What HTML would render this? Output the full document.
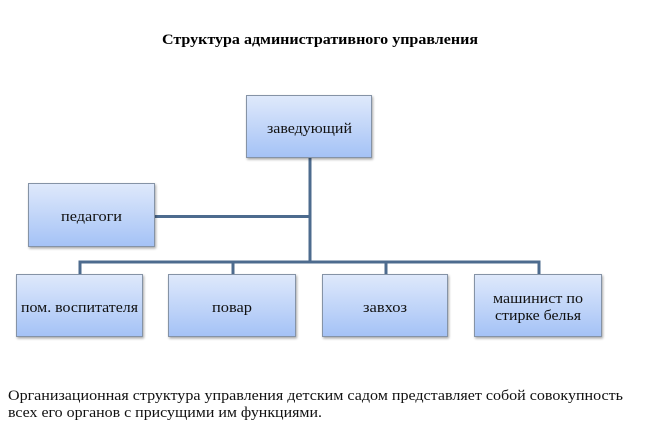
<!DOCTYPE html>
<html>
<head>
<meta charset="utf-8">
<style>
html,body{margin:0;padding:0;background:#fff;}
svg{display:block;}
svg text{font-family:"Liberation Serif","DejaVu Serif",serif;}
</style>
</head>
<body>
<svg width="651" height="430" viewBox="0 0 651 430" xmlns="http://www.w3.org/2000/svg">
<defs>
<linearGradient id="g" x1="0" y1="0" x2="0" y2="1">
<stop offset="0" stop-color="#dfe9fb"/>
<stop offset="1" stop-color="#a4c2f6"/>
</linearGradient>
<filter id="sh" x="-10%" y="-10%" width="130%" height="130%">
<feGaussianBlur in="SourceAlpha" stdDeviation="1.2"/>
<feOffset dx="1" dy="1.5" result="b"/>
<feComponentTransfer><feFuncA type="linear" slope="0.35"/></feComponentTransfer>
<feMerge><feMergeNode/><feMergeNode in="SourceGraphic"/></feMerge>
</filter>
</defs>
<rect width="651" height="430" fill="#fff"/>
<text x="162" y="44" style="font-family:'Liberation Serif',serif;font-weight:bold;font-size:15px" textLength="316" lengthAdjust="spacingAndGlyphs" fill="#000">Структура административного управления</text>

<g stroke="#4d6b8e" stroke-width="3" fill="none">
<line x1="310" y1="157" x2="310" y2="263.5"/>
<line x1="155" y1="216.5" x2="310" y2="216.5"/>
<line x1="78.5" y1="262" x2="540.5" y2="262"/>
<line x1="80" y1="262" x2="80" y2="274"/>
<line x1="233" y1="262" x2="233" y2="274"/>
<line x1="386" y1="262" x2="386" y2="274"/>
<line x1="539" y1="262" x2="539" y2="274"/>
</g>

<g fill="url(#g)" stroke="#8593a6" stroke-width="1" filter="url(#sh)">
<rect x="246.5" y="95.5" width="125" height="62"/>
<rect x="28.5" y="183.5" width="126" height="63"/>
<rect x="16.5" y="274.5" width="126" height="62"/>
<rect x="168.5" y="274.5" width="127" height="62"/>
<rect x="322.5" y="274.5" width="125" height="62"/>
<rect x="474.5" y="274.5" width="127" height="62"/>
</g>

<g style="font-family:'Liberation Serif',serif;font-size:15px" fill="#111">
<text x="267" y="133" textLength="85" lengthAdjust="spacingAndGlyphs">заведующий</text>
<text x="61" y="221" textLength="61" lengthAdjust="spacingAndGlyphs">педагоги</text>
<text x="21" y="312" textLength="117" lengthAdjust="spacingAndGlyphs">пом. воспитателя</text>
<text x="212" y="312" textLength="40" lengthAdjust="spacingAndGlyphs">повар</text>
<text x="363" y="312" textLength="44" lengthAdjust="spacingAndGlyphs">завхоз</text>
<text x="493" y="303" textLength="90" lengthAdjust="spacingAndGlyphs">машинист по</text>
<text x="495" y="320" textLength="86" lengthAdjust="spacingAndGlyphs">стирке белья</text>
</g>

<g style="font-family:'Liberation Serif',serif;font-size:15px" fill="#111">
<text x="8" y="400" textLength="615" lengthAdjust="spacingAndGlyphs">Организационная структура управления детским садом представляет собой совокупность</text>
<text x="8" y="417" textLength="314" lengthAdjust="spacingAndGlyphs">всех его органов с присущими им функциями.</text>
</g>
</svg>
</body>
</html>
